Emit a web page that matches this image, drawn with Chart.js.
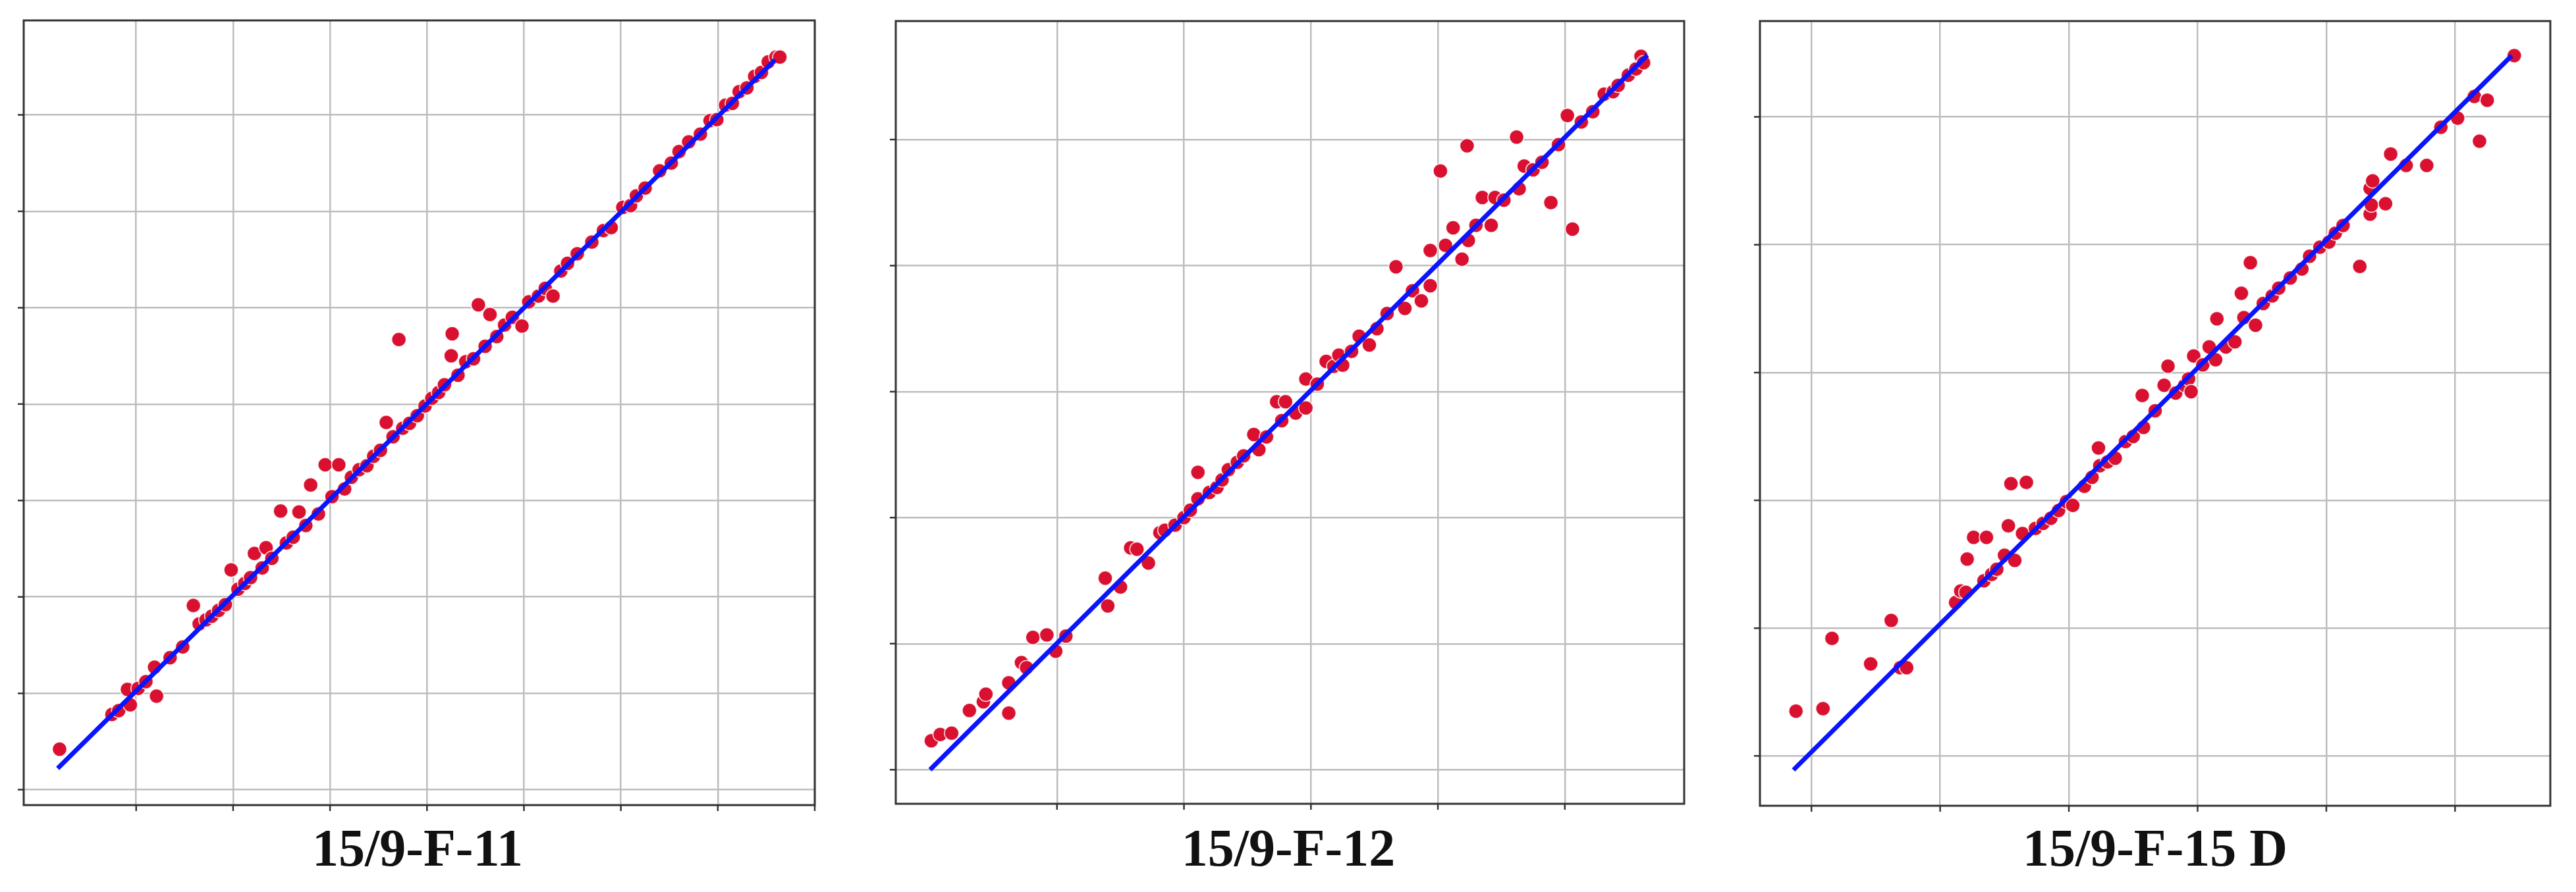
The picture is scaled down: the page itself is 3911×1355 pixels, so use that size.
<!DOCTYPE html>
<html>
<head>
<meta charset="utf-8">
<script src="https://cdn.jsdelivr.net/npm/chart.js@4"></script>
<style>
  body { margin: 0; width: 3911px; height: 1355px; background: #fff; position: relative; overflow: hidden; }
  .box { position: absolute; }
  .title { position: absolute; font-family: "Liberation Serif", serif; font-weight: bold; font-size: 80px; color: #111; text-align: center; width: 800px; }
</style>
</head>
<body>
<div class="box" id="b1"><canvas id="c1"></canvas></div>
<div class="box" id="b2"><canvas id="c2"></canvas></div>
<div class="box" id="b3"><canvas id="c3"></canvas></div>
<div class="title" style="left:234px; top:1243px;">15/9-F-11</div>
<div class="title" style="left:1556px; top:1243px;">15/9-F-12</div>
<div class="title" style="left:2872px; top:1243px;">15/9-F-15 D</div>
<script>
'use strict'

// well 15/9-F-11
const f11X = [0.21, 0.75, 0.82, 0.91, 0.94, 1.02, 1.1, 1.19, 1.21, 1.35, 1.48, 1.59, 1.65, 1.72, 1.78, 1.85, 1.92, 1.98, 2.05, 2.12, 2.18, 2.22, 2.3, 2.34, 2.4, 2.49, 2.55, 2.62, 2.68, 2.75, 2.8, 2.88, 2.95, 3.02, 3.09, 3.15, 3.22, 3.3, 3.38, 3.45, 3.52, 3.58, 3.65, 3.71, 3.75, 3.82, 3.9, 3.98, 4.05, 4.12, 4.18, 4.25, 4.26, 4.32, 4.4, 4.48, 4.53, 4.6, 4.65, 4.72, 4.8, 4.88, 4.98, 5.05, 5.15, 5.22, 5.3, 5.38, 5.45, 5.55, 5.7, 5.82, 5.9, 6.02, 6.1, 6.16, 6.25, 6.4, 6.52, 6.6, 6.7, 6.82, 6.92, 6.99, 7.08, 7.15, 7.22, 7.3, 7.38, 7.45, 7.52, 7.6, 7.64];
const f11Y = [0.42, 0.78, 0.82, 1.04, 0.88, 1.05, 1.12, 1.27, 0.97, 1.37, 1.48, 1.91, 1.72, 1.76, 1.8, 1.86, 1.92, 2.28, 2.08, 2.14, 2.2, 2.45, 2.3, 2.51, 2.4, 2.89, 2.56, 2.62, 2.88, 2.74, 3.16, 2.86, 3.37, 3.04, 3.37, 3.12, 3.24, 3.32, 3.36, 3.46, 3.52, 3.81, 3.66, 4.67, 3.75, 3.8, 3.88, 3.98, 4.06, 4.12, 4.2, 4.5, 4.73, 4.3, 4.44, 4.47, 5.03, 4.6, 4.93, 4.7, 4.82, 4.9, 4.81, 5.06, 5.12, 5.2, 5.12, 5.38, 5.46, 5.56, 5.68, 5.8, 5.83, 6.04, 6.06, 6.16, 6.24, 6.42, 6.5, 6.62, 6.72, 6.8, 6.94, 6.95, 7.1, 7.12, 7.24, 7.28, 7.4, 7.44, 7.55, 7.6, 7.6];
const f11Line = [[0.19, 0.22], [7.59, 7.57]];

// well 15/9-F-12
const f12X = [0.01, 0.08, 0.17, 0.31, 0.42, 0.44, 0.62, 0.62, 0.72, 0.76, 0.81, 0.92, 0.99, 1.07, 1.38, 1.4, 1.5, 1.58, 1.63, 1.72, 1.81, 1.85, 1.93, 2.0, 2.05, 2.11, 2.11, 2.2, 2.26, 2.3, 2.35, 2.42, 2.47, 2.55, 2.59, 2.65, 2.73, 2.77, 2.8, 2.88, 2.96, 2.96, 3.05, 3.12, 3.18, 3.22, 3.25, 3.32, 3.38, 3.46, 3.52, 3.6, 3.67, 3.74, 3.8, 3.87, 3.94, 3.94, 4.02, 4.06, 4.12, 4.19, 4.23, 4.24, 4.3, 4.35, 4.42, 4.45, 4.52, 4.62, 4.64, 4.68, 4.75, 4.82, 4.89, 4.95, 5.02, 5.06, 5.13, 5.22, 5.31, 5.38, 5.42, 5.5, 5.56, 5.6, 5.62];
const f12Y = [0.23, 0.28, 0.29, 0.47, 0.54, 0.6, 0.45, 0.69, 0.85, 0.81, 1.05, 1.07, 0.94, 1.06, 1.52, 1.3, 1.45, 1.76, 1.75, 1.64, 1.88, 1.9, 1.94, 2.0, 2.06, 2.36, 2.15, 2.2, 2.24, 2.3, 2.38, 2.44, 2.49, 2.66, 2.54, 2.64, 2.92, 2.77, 2.92, 2.83, 3.1, 2.87, 3.06, 3.24, 3.2, 3.29, 3.21, 3.32, 3.44, 3.37, 3.5, 3.62, 3.99, 3.66, 3.8, 3.72, 4.12, 3.84, 4.75, 4.16, 4.3, 4.05, 4.95, 4.2, 4.32, 4.54, 4.32, 4.54, 4.52, 5.02, 4.61, 4.79, 4.76, 4.82, 4.5, 4.96, 5.19, 4.29, 5.14, 5.22, 5.36, 5.38, 5.43, 5.51, 5.56, 5.66, 5.61];
const f12Line = [[0.0, 0.0], [5.65, 5.67]];

// well 15/9-F-15 D
const f15X = [-0.12, 0.09, 0.16, 0.46, 0.62, 0.69, 0.74, 1.12, 1.16, 1.2, 1.21, 1.26, 1.36, 1.34, 1.4, 1.44, 1.5, 1.53, 1.55, 1.58, 1.64, 1.67, 1.74, 1.8, 1.86, 1.92, 1.98, 2.03, 2.12, 2.18, 2.23, 2.24, 2.3, 2.36, 2.44, 2.5, 2.58, 2.57, 2.67, 2.74, 2.77, 2.83, 2.9, 2.93, 2.95, 2.97, 3.04, 3.09, 3.15, 3.14, 3.22, 3.29, 3.34, 3.36, 3.41, 3.45, 3.51, 3.58, 3.63, 3.72, 3.81, 3.87, 3.95, 4.02, 4.07, 4.13, 4.26, 4.34, 4.35, 4.34, 4.36, 4.46, 4.5, 4.62, 4.78, 4.89, 5.02, 5.15, 5.19, 5.25, 5.46];
const f15Y = [0.35, 0.37, 0.92, 0.72, 1.06, 0.69, 0.69, 1.2, 1.29, 1.28, 1.54, 1.71, 1.71, 1.37, 1.42, 1.46, 1.57, 1.8, 2.13, 1.53, 1.74, 2.14, 1.78, 1.82, 1.86, 1.92, 1.99, 1.96, 2.11, 2.18, 2.41, 2.27, 2.3, 2.33, 2.46, 2.5, 2.57, 2.82, 2.7, 2.9, 3.05, 2.84, 2.9, 2.95, 2.85, 3.13, 3.06, 3.2, 3.42, 3.1, 3.2, 3.24, 3.62, 3.43, 3.86, 3.37, 3.54, 3.6, 3.66, 3.74, 3.81, 3.91, 3.98, 4.02, 4.09, 4.15, 3.83, 4.24, 4.31, 4.44, 4.5, 4.32, 4.71, 4.62, 4.62, 4.92, 4.99, 5.16, 4.81, 5.13, 5.48];
const f15Line = [[-0.14, -0.11], [5.44, 5.48]];

// plot boxes on the page (left, top, right, bottom) and axis ranges
const panels = [
  { id: 'c1', box: [36, 31, 1237, 1223], xs: f11X, ys: f11Y, line: f11Line, xr: [-0.16, 8.0], yr: [-0.16, 7.98] },
  { id: 'c2', box: [1360, 32, 2557, 1221], xs: f12X, ys: f12Y, line: f12Line, xr: [-0.27, 5.94], yr: [-0.27, 5.94] },
  { id: 'c3', box: [2672, 32, 3872, 1224], xs: f15X, ys: f15Y, line: f15Line, xr: [-0.4, 5.74], yr: [-0.39, 5.75] }
];

const PAD = 20;

const frame = {
  id: 'frame',
  afterDraw(chart) {
    const ctx = chart.ctx;
    const a = chart.chartArea;
    ctx.save();
    ctx.strokeStyle = '#333';
    ctx.lineWidth = 3;
    ctx.strokeRect(a.left, a.top, a.right - a.left, a.bottom - a.top);
    // small outward tick marks
    ctx.lineWidth = 2.5;
    ctx.beginPath();
    for (const t of chart.scales.x.ticks) {
      const px = chart.scales.x.getPixelForValue(t.value);
      ctx.moveTo(px, a.bottom);
      ctx.lineTo(px, a.bottom + 9);
    }
    for (const t of chart.scales.y.ticks) {
      const py = chart.scales.y.getPixelForValue(t.value);
      ctx.moveTo(a.left, py);
      ctx.lineTo(a.left - 9, py);
    }
    ctx.stroke();
    ctx.restore();
  }
};

function wholeTicks(scale) {
  scale.ticks = scale.ticks.filter(t => Math.abs(t.value - Math.round(t.value)) < 1e-6);
}

function makeChart(p) {
  const [l, t, r, b] = p.box;
  const holder = document.getElementById(p.id).parentNode;
  holder.style.left = (l - PAD) + 'px';
  holder.style.top = (t - PAD) + 'px';
  holder.style.width = (r - l + 2 * PAD) + 'px';
  holder.style.height = (b - t + 2 * PAD) + 'px';

  const pts = p.xs.map((x, i) => ({ x: x, y: p.ys[i] }));
  const fit = p.line.map(d => ({ x: d[0], y: d[1] }));

  const axis = (range) => ({
    type: 'linear',
    min: range[0],
    max: range[1],
    afterBuildTicks: wholeTicks,
    ticks: { display: false, stepSize: 1 },
    grid: { color: '#bdbdbd', lineWidth: 2.5, drawTicks: false },
    border: { display: false }
  });

  new Chart(document.getElementById(p.id), {
    type: 'scatter',
    data: {
      datasets: [
        {
          type: 'line',
          data: fit,
          borderColor: '#0a14ff',
          borderWidth: 7,
          pointRadius: 0,
          order: 0
        },
        {
          data: pts,
          backgroundColor: '#d9102f',
          borderColor: 'rgba(255,255,255,0.85)',
          borderWidth: 1.5,
          pointRadius: 11,
          order: 1
        }
      ]
    },
    options: {
      responsive: true,
      maintainAspectRatio: false,
      animation: false,
      layout: { padding: PAD },
      plugins: { legend: { display: false }, tooltip: { enabled: false } },
      scales: { x: axis(p.xr), y: axis(p.yr) }
    },
    plugins: [frame]
  });
}

for (const p of panels) {
  makeChart(p);
}
</script>
</body>
</html>
